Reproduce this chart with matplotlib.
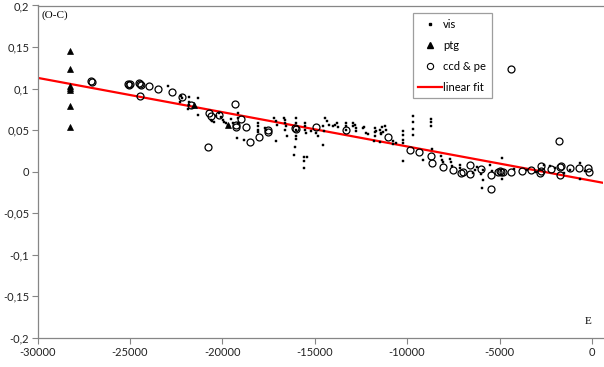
import matplotlib
matplotlib.use("Agg")
import matplotlib.pyplot as plt
from matplotlib.lines import Line2D

# ---- data ----
vis_E = [-22965, -22222, -22168, -22292, -21826, -21788, -21788, -21881, -21339, -21339,
         -20580, -20341, -20162, -20070, -19984, -19800, -19713, -19620, -19171, -19171,
         -19171, -19225, -18807, -20613, -20433, -19529, -19441, -19891,
         -18086, -18086, -18086, -18049, -17669, -17631, -17181, -17089, -17057, -17089,
         -16639, -16585, -16585, -16547, -16585, -16515, -16005, -16005, -16005, -15989,
         -16005, -16059, -16097, -15593, -15409, -15593, -15593, -15501, -15501, -15501,
         -15447, -15192, -14921, -14835, -14564, -14564, -14472, -14417, -14347, -14200,
         -14022, -13875, -13805, -13751, -13333, -13333, -13295, -12938, -12938, -12845,
         -12791, -12753, -12395, -12200, -12358, -12125, -11761, -11761, -11761, -11816,
         -11669, -11490, -11398, -11344, -11219, -11165, -11312, -11436, -11490, -10770,
         -10770, -10623, -10228, -10228, -10228, -10228, -10228, -9686, -9686, -9686,
         -9686, -9143, -8726, -8726, -8688, -8634, -8146, -8114, -8060, -7658,
         -7604, -7550, -7154, -7116, -4862, -5490, -4862, -5924, -5892, -6341,
         -6434, -5892, -650, -650, -2276, -5400, -4200, -3000, -2000, -1200,
         -400, -2600, -6200, -6000, -3500, -1500]
vis_OC = [0.1035, 0.0914, 0.0890, 0.0838, 0.0899, 0.0838, 0.0806, 0.0758, 0.0887, 0.0677,
          0.0604, 0.0665, 0.0706, 0.0657, 0.0625, 0.0585, 0.0565, 0.0544, 0.0706, 0.0645,
          0.0585, 0.0404, 0.0384, 0.0625, 0.0592, 0.0633, 0.0585, 0.0592,
          0.0585, 0.0544, 0.0504, 0.0472, 0.0525, 0.0496, 0.0645, 0.0604, 0.0565, 0.0363,
          0.0645, 0.0625, 0.0585, 0.0553, 0.0496, 0.0423, 0.0645, 0.0585, 0.0504, 0.0423,
          0.0392, 0.0296, 0.0194, 0.0170, 0.0170, 0.0130, 0.0042, 0.0585, 0.0544, 0.0504,
          0.0464, 0.0484, 0.0464, 0.0423, 0.0323, 0.0544, 0.0484, 0.0645, 0.0604, 0.0565,
          0.0544, 0.0565, 0.0585, 0.0537, 0.0585, 0.0544, 0.0504, 0.0585, 0.0544, 0.0565,
          0.0525, 0.0484, 0.0525, 0.0464, 0.0537, 0.0456, 0.0525, 0.0472, 0.0423, 0.0363,
          0.0484, 0.0504, 0.0464, 0.0537, 0.0553, 0.0504, 0.0472, 0.0452, 0.0356, 0.0363,
          0.0335, 0.0344, 0.0484, 0.0444, 0.0384, 0.0344, 0.0122, 0.0665, 0.0592, 0.0513,
          0.0444, 0.0134, 0.0633, 0.0592, 0.0553, 0.0271, 0.0182, 0.0142, 0.0110, 0.0150,
          0.0110, 0.0070, 0.0082, 0.0042, 0.0163, 0.0082, -0.0090, -0.0199, 0.0022, 0.0022,
          -0.0018, -0.0099, -0.0090, 0.0103, 0.0062, 0.0010, 0.0030, -0.0010, 0.0040, 0.0020,
          0.0010, 0.0080, 0.0050, -0.0030, 0.0020, -0.0020]

ptg_E = [-28240, -28240, -28240, -28240, -28240, -28240, -28240, -21518, -19713]
ptg_OC = [0.1457, 0.1236, 0.1027, 0.1007, 0.0987, 0.0794, 0.0532, 0.0797, 0.0556]

ccd_E = [-27116, -27046, -25095, -25040, -24986, -24498, -24444, -24390, -24427, -23993,
         -23506, -22748, -22206, -21680, -20759, -20704, -20613, -20162, -19295, -19268,
         -19241, -18986, -18715, -18498, -17994, -17545, -17545, -16059, -16016, -14905,
         -13317, -11019, -9848, -9339, -8710, -8672, -8060, -7517, -7062, -6975,
         -6612, -6612, -5978, -5436, -5436, -4932, -4824, -4352, -4352, -3810,
         -3322, -2764, -2764, -2238, -1734, -1734, -1772, -1680, -1192, -705,
         -200, -146, -2818, -5100, -4950]
ccd_OC = [0.1087, 0.1077, 0.1053, 0.1047, 0.1059, 0.1068, 0.1053, 0.1047, 0.0906, 0.1027,
          0.0995, 0.0954, 0.0902, 0.0806, 0.0296, 0.0706, 0.0665, 0.0685, 0.0814, 0.0559,
          0.0540, 0.0633, 0.0534, 0.0360, 0.0420, 0.0504, 0.0472, 0.0522, 0.0510, 0.0540,
          0.0496, 0.0411, 0.0263, 0.0235, 0.0182, 0.0106, 0.0052, 0.0022, -0.0011, 0.0001,
          0.0082, -0.0027, 0.0030, -0.0039, -0.0211, -0.0008, -0.0002, 0.0001, 0.1236, 0.0013,
          0.0022, 0.0013, 0.0070, 0.0030, 0.0054, -0.0039, 0.0363, 0.0064, 0.0042, 0.0042,
          0.0042, -0.0006, -0.0018, 0.0000, 0.0005]

fit_E = [-30000, 600]
fit_intercept = -0.0110
fit_slope = -4.13e-6

x_ticks = [-30000, -25000, -20000, -15000, -10000, -5000, 0]
x_labels = ["-30000", "-25000", "-20000", "-15000", "-10000", "-5000", "0"]
y_ticks = [-0.2, -0.15, -0.1, -0.05, 0, 0.05, 0.1, 0.15, 0.2]
y_labels = ["-0,2", "-0,15", "-0,1", "-0,05", "0", "0,05", "0,1", "0,15", "0,2"]
legend_labels = ["vis", "ptg", "ccd & pe", "linear fit"]

# ---- figure ----
W, H = 604, 367
fig = plt.figure(figsize=(W / 100, H / 100), dpi=100)
ax = fig.add_axes([37.5 / W, 1 - 337.7 / H, (603 - 37.5) / W, (337.7 - 5.5) / H])

tick_font = "Lato"
gray = "#868686"

fit_OC = [fit_intercept + fit_slope * e for e in fit_E]
ax.plot(fit_E, fit_OC, color="#ff0000", lw=1.6, zorder=2)
ax.plot(vis_E, vis_OC, ls="none", marker="s", ms=1.6, mfc="black", mec="black", mew=0.3, zorder=3)
ax.plot(ptg_E, ptg_OC, ls="none", marker="^", ms=4.5, mfc="black", mec="black", mew=0.5, zorder=4)
ax.plot(ccd_E, ccd_OC, ls="none", marker="o", ms=5, mfc="none", mec="black", mew=0.9, zorder=5)

ax.set_xlim(-30000, 600)
ax.set_ylim(-0.2, 0.2)
ax.set_xticks(x_ticks)
ax.set_xticklabels(x_labels, fontsize=8, family=tick_font, color="#222222")
ax.set_yticks(y_ticks)
ax.set_yticklabels(y_labels, fontsize=8, family=tick_font, color="#222222")
ax.tick_params(axis="both", direction="out", length=4, width=0.8, color=gray)
ax.tick_params(axis="x", pad=3)
ax.tick_params(axis="y", pad=2)

for s in ("left", "bottom", "top"):
    ax.spines[s].set_color(gray)
    ax.spines[s].set_linewidth(0.9)
ax.spines["right"].set_visible(False)

fig.text(41 / W, 1 - 15 / H, "(O-C)", fontsize=8, family="Liberation Serif",
         va="center", ha="left")
fig.text(588 / W, 1 - 321 / H, "E", fontsize=8, family="Liberation Serif",
         va="center", ha="center")

handles = [
    Line2D([], [], ls="none", marker="s", ms=1.6, mfc="black", mec="black"),
    Line2D([], [], ls="none", marker="^", ms=4.5, mfc="black", mec="black"),
    Line2D([], [], ls="none", marker="o", ms=4.5, mfc="none", mec="black", mew=0.8),
    Line2D([], [], color="#ff0000", lw=1.6),
]
leg = ax.legend(handles, legend_labels,
                loc="upper left",
                bbox_to_anchor=((412.7 - 37.5) / (603 - 37.5), 1 - (13.3 - 5.5) / 332.2),
                prop={"family": tick_font, "size": 8}, frameon=True, fancybox=False,
                edgecolor=gray, handlelength=2.1, handletextpad=0.15, labelspacing=0.9,
                borderpad=0.5, borderaxespad=0)
leg.get_frame().set_linewidth(0.9)

fig.savefig("out.png", dpi=100)
